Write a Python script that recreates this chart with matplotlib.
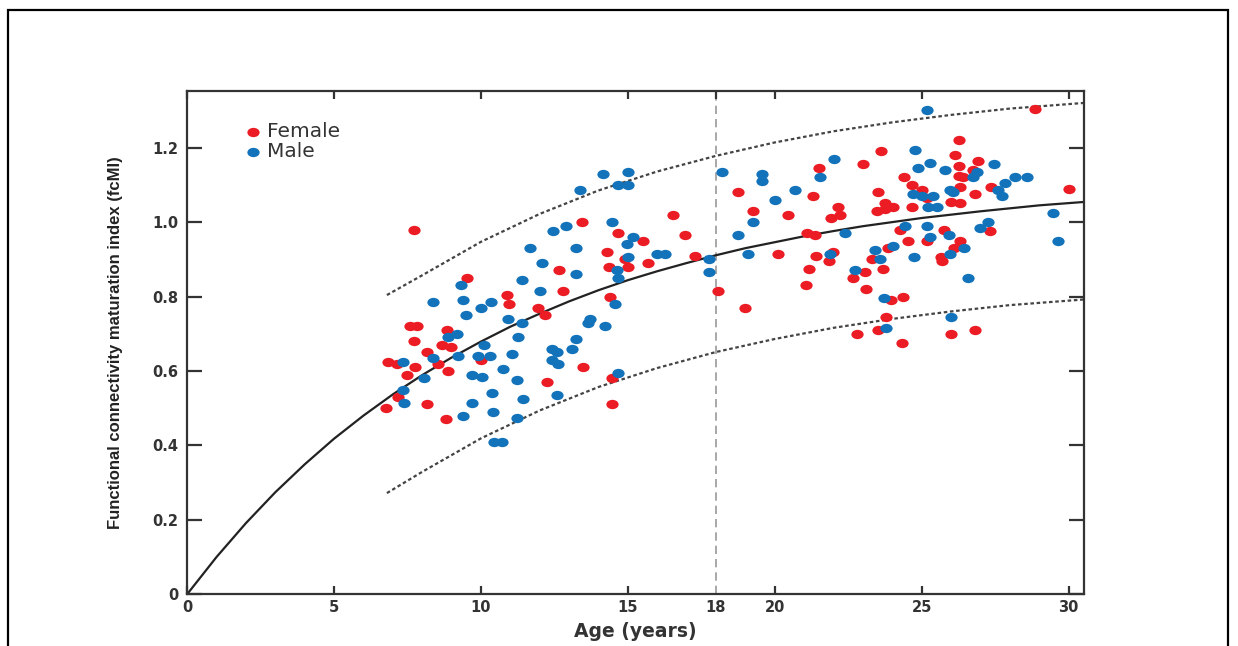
import matplotlib

matplotlib.use("Agg")

import matplotlib.pyplot as plt  # noqa: E402
from matplotlib.patches import Rectangle  # noqa: E402
from matplotlib.path import Path  # noqa: E402

# Scatter data: age (years) and fcMI
female_age = [
    7.73, 9.54, 7.59, 7.82, 8.84, 7.72, 8.69, 8.98, 8.16, 9.99, 6.85, 7.14, 8.55,
    7.76, 8.89, 7.48, 7.19, 8.18, 6.77, 8.80, 13.45, 14.68, 14.28, 12.67, 14.37,
    12.80, 10.88, 10.97, 14.39, 11.95, 12.18, 13.46, 14.45, 12.24, 14.45, 18.76,
    16.55, 16.94, 15.53, 14.90, 17.28, 15.68, 15.02, 18.08, 18.99, 23.01, 21.50,
    21.29, 22.16, 22.22, 19.25, 20.44, 21.90, 21.09, 21.37, 20.12, 21.40, 21.99,
    21.85, 21.16, 22.67, 23.07, 21.06, 23.10, 22.79, 26.27, 23.61, 26.13, 26.92,
    26.27, 26.75, 26.27, 26.41, 24.41, 24.66, 26.30, 27.36, 25.00, 23.50, 26.81,
    25.17, 26.00, 26.30, 23.75, 23.47, 23.75, 24.03, 24.66, 24.26, 27.32, 25.77,
    24.54, 25.17, 26.30, 23.86, 26.11, 25.65, 25.70, 23.30, 23.69, 23.95, 24.37,
    23.77, 23.52, 26.81, 26.00, 24.32, 28.85, 30.01,
]
female_fcmi = [
    0.98, 0.85, 0.72, 0.72, 0.71, 0.68, 0.67, 0.665, 0.65, 0.63, 0.625, 0.62, 0.62,
    0.61, 0.60, 0.59, 0.53, 0.51, 0.50, 0.47, 1.00, 0.97, 0.92, 0.87, 0.88,
    0.815, 0.805, 0.78, 0.80, 0.77, 0.75, 0.61, 0.58, 0.57, 0.51, 1.08,
    1.02, 0.965, 0.95, 0.90, 0.91, 0.89, 0.88, 0.815, 0.77, 1.155, 1.145,
    1.07, 1.04, 1.02, 1.03, 1.02, 1.01, 0.97, 0.965, 0.915, 0.91, 0.92,
    0.895, 0.875, 0.85, 0.865, 0.83, 0.82, 0.70, 1.22, 1.19, 1.18, 1.165,
    1.15, 1.14, 1.125, 1.12, 1.12, 1.10, 1.095, 1.095, 1.085, 1.08, 1.075,
    1.065, 1.055, 1.05, 1.05, 1.03, 1.035, 1.04, 1.04, 0.98, 0.975, 0.98,
    0.95, 0.95, 0.95, 0.93, 0.93, 0.905, 0.895, 0.90, 0.875, 0.79, 0.80,
    0.745, 0.71, 0.71, 0.70, 0.675, 1.305, 1.09,
]
male_age = [
    9.31, 8.36, 9.40, 10.34, 10.00, 9.49, 8.87, 9.18, 10.11, 8.38, 9.23, 9.91,
    10.31, 7.36, 8.07, 9.69, 10.03, 7.36, 10.36, 7.39, 9.71, 10.41, 9.40, 14.14,
    13.37, 14.47, 12.89, 12.46, 11.67, 13.24, 12.07, 13.24, 14.63, 14.66, 11.39,
    12.01, 14.56, 10.93, 11.39, 13.71, 13.65, 14.22, 11.27, 13.23, 12.41, 12.58,
    13.09, 11.05, 12.41, 12.63, 10.76, 14.68, 11.22, 11.44, 12.58, 11.22, 10.45,
    10.72, 15.02, 18.19, 14.68, 15.02, 15.19, 18.76, 14.96, 15.98, 16.26, 15.02,
    17.76, 17.77, 22.02, 19.55, 19.55, 21.54, 20.69, 20.01, 19.27, 22.39, 19.10,
    21.88, 22.73, 25.17, 24.77, 25.28, 24.88, 25.79, 27.47, 26.87, 26.75, 25.96,
    26.06, 24.71, 25.00, 25.39, 25.22, 25.51, 27.24, 24.43, 25.17, 26.98, 25.94,
    25.28, 24.03, 23.41, 26.45, 25.96, 24.75, 23.58, 26.56, 23.73, 26.00, 23.77,
    28.17, 28.59, 27.83, 27.60, 27.72, 29.48, 29.63,
]
male_fcmi = [
    0.83, 0.785, 0.79, 0.785, 0.77, 0.75, 0.69, 0.70, 0.67, 0.635, 0.64, 0.64,
    0.64, 0.625, 0.58, 0.59, 0.585, 0.55, 0.54, 0.515, 0.515, 0.49, 0.48, 1.13,
    1.085, 1.00, 0.99, 0.975, 0.93, 0.93, 0.89, 0.86, 0.87, 0.85, 0.845,
    0.815, 0.78, 0.74, 0.73, 0.74, 0.73, 0.72, 0.69, 0.685, 0.66, 0.65,
    0.66, 0.645, 0.63, 0.62, 0.605, 0.595, 0.575, 0.525, 0.535, 0.475, 0.41,
    0.41, 1.135, 1.135, 1.10, 1.10, 0.96, 0.965, 0.94, 0.915, 0.915, 0.905,
    0.90, 0.865, 1.17, 1.13, 1.11, 1.12, 1.085, 1.06, 1.00, 0.97, 0.915,
    0.915, 0.87, 1.30, 1.195, 1.16, 1.145, 1.14, 1.155, 1.135, 1.12, 1.085,
    1.08, 1.075, 1.07, 1.07, 1.04, 1.04, 1.00, 0.99, 0.99, 0.985, 0.965,
    0.96, 0.935, 0.925, 0.93, 0.915, 0.905, 0.90, 0.85, 0.795, 0.745, 0.715,
    1.12, 1.12, 1.105, 1.085, 1.07, 1.025, 0.95,
]

# Fitted maturation curve
fit_age = list(range(0, 31)) + [30.5]
fit_fcmi = [
    0.0, 0.100, 0.191, 0.274, 0.349, 0.418, 0.480, 0.537, 0.589, 0.636, 0.679,
    0.719, 0.754, 0.787, 0.817, 0.844, 0.868, 0.890, 0.911, 0.930, 0.946,
    0.962, 0.976, 0.989, 1.000, 1.011, 1.020, 1.029, 1.037, 1.045, 1.051, 1.054,
]

# Prediction band (dotted curves)
band_age = [6.8, 8, 10, 12, 14, 16, 18, 20, 22, 24, 26, 28, 30.5]
band_upper = [0.804, 0.857, 0.947, 1.022, 1.085, 1.136, 1.178, 1.214, 1.244,
              1.268, 1.288, 1.305, 1.320]
band_lower = [0.272, 0.329, 0.419, 0.494, 0.557, 0.608, 0.651, 0.686, 0.716,
              0.740, 0.760, 0.777, 0.792]

x_ticks = [0, 5, 10, 15, 18, 20, 25, 30]
y_ticks = [0, 0.2, 0.4, 0.6, 0.8, 1.0, 1.2]
y_tick_labels = ["0", "0.2", "0.4", "0.6", "0.8", "1.0", "1.2"]
adult_age = 18

RED = "#ec1c24"
BLUE = "#1273bb"
INK = "#333333"
FONT = ["DejaVu Sans"]

# dots in the original are slightly wider than tall
_circ = Path.unit_circle()
DOT = Path(_circ.vertices * [1.0, 0.76], _circ.codes)

fig = plt.figure(figsize=(12.38, 6.46), dpi=100)
fig.patches.append(Rectangle((8 / 1238, -0.02), 1220 / 1238, 0.02 + 636 / 646,
                             transform=fig.transFigure, fill=False,
                             edgecolor="black", linewidth=1.6))

ax = fig.add_axes([0.1511, 0.080, 0.7245, 0.7796])

ax.axvline(adult_age, color="#9a9a9a", lw=1.2, ls=(0, (5, 3)), zorder=1)
ax.plot(band_age, band_upper, color="#444444", lw=1.6, ls=(0, (1.6, 1.2)), zorder=2)
ax.plot(band_age, band_lower, color="#444444", lw=1.6, ls=(0, (1.6, 1.2)), zorder=2)
ax.plot(fit_age, fit_fcmi, color="#222222", lw=1.6, zorder=2)

fem = ax.scatter(female_age, female_fcmi, s=78, marker=DOT, color=RED,
                 linewidths=0, zorder=3, label="Female")
mal = ax.scatter(male_age, male_fcmi, s=78, marker=DOT, color=BLUE,
                 linewidths=0, zorder=3, label="Male")

ax.set_xlim(0, 30.52)
ax.set_ylim(0, 1.353)

ax.set_xticks(x_ticks)
ax.set_xticklabels([str(t) for t in x_ticks])
ax.set_yticks(y_ticks)
ax.set_yticklabels(y_tick_labels)

for t in ax.xaxis.get_major_ticks():
    if t.get_loc() == adult_age:
        t.tick1line.set_visible(False)
        t.tick2line.set_visible(False)

ax.tick_params(axis="x", direction="in", length=6, width=1.6, color=INK,
               top=True, pad=4, labelsize=10.5, labelcolor=INK)
ax.tick_params(axis="y", direction="in", length=11, width=1.6, color=INK,
               right=True, pad=6, labelsize=10.5, labelcolor=INK)
for lab in ax.get_xticklabels() + ax.get_yticklabels():
    lab.set_family(FONT)
    lab.set_fontweight("bold")

for sp in ax.spines.values():
    sp.set_color(INK)
    sp.set_linewidth(1.6)

ax.set_xlabel("Age (years)", fontsize=13.5, fontweight="bold", color=INK,
              family=FONT, labelpad=5)
ax.set_ylabel("Functional connectivity maturation index (fcMI)", fontsize=12,
              fontweight="bold", color="#222222",
              family=["Liberation Sans", "DejaVu Sans"], labelpad=21)

leg = ax.legend(handles=[fem, mal], loc="upper left",
                bbox_to_anchor=(0.063, 0.937), frameon=False, fontsize=14.5,
                handletextpad=0.25, labelspacing=0.05, handlelength=0.9,
                borderaxespad=0, borderpad=0)
for txt in leg.get_texts():
    txt.set_color(INK)
    txt.set_family(FONT)

fig.savefig("out.png", dpi=100)
